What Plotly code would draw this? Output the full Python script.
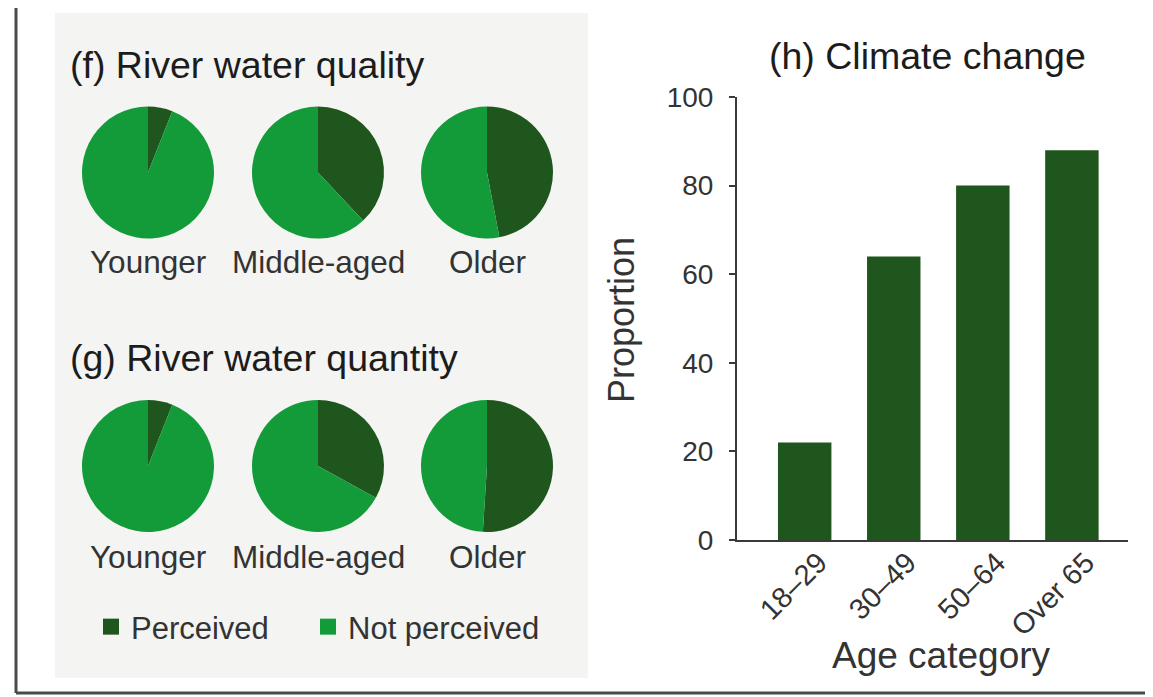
import plotly.graph_objects as go

# page has an 8px body margin, so the figure is drawn 8px smaller and all
# layout positions below are given in screenshot pixels, then shifted
OFF = 8
W, H = 1153 - OFF, 697 - OFF

# ---------------- data ----------------
groups = ["Younger", "Middle-aged", "Older"]
slice_labels = ["Perceived", "Not perceived"]
quality_perceived = [6, 38, 47]
quantity_perceived = [6, 33, 51]

age_categories = ["18–29", "30–49", "50–64", "Over 65"]
climate_values = [22, 64, 80, 88]
y_ticks = [0, 20, 40, 60, 80, 100]

DARK = "#1f561d"
LIGHT = "#139b3a"
FONT = "Liberation Sans, Arial, sans-serif"

def px(x):
    return (x - OFF) / W

def py(y):
    return 1 - (y - OFF) / H

fig = go.Figure()

# ---------------- bar chart ----------------
fig.add_trace(go.Bar(
    x=age_categories,
    y=climate_values,
    marker=dict(color=DARK, line=dict(width=0)),
    showlegend=False,
    hoverinfo="x+y",
))

# ---------------- pies ----------------
pie_cx = [148, 318, 487]
pie_r = 66
rows = [(quality_perceived, 172.5), (quantity_perceived, 466)]
for vals, cy in rows:
    for i, g in enumerate(groups):
        cx = pie_cx[i]
        fig.add_trace(go.Pie(
            labels=slice_labels,
            values=[vals[i], 100 - vals[i]],
            marker=dict(colors=[DARK, LIGHT], line=dict(width=0)),
            sort=False,
            direction="clockwise",
            rotation=0,
            textinfo="none",
            hoverinfo="label+percent",
            showlegend=False,
            domain=dict(x=[px(cx - pie_r), px(cx + pie_r)],
                        y=[py(cy + pie_r), py(cy - pie_r)]),
            name=g,
        ))

# legend entries (empty square-marker traces so the keys are larger),
# each in its own legend so they can be spaced as in the original
legend_x = [91, 308]
for k, (lab, col) in enumerate(zip(slice_labels, [DARK, LIGHT])):
    fig.add_trace(go.Scatter(
        x=[None], y=[None], mode="markers", name=lab,
        marker=dict(symbol="square", size=20, color=col),
        showlegend=True, hoverinfo="skip",
        legend="legend" if k == 0 else "legend2",
    ))

legend_common = dict(
    orientation="h", yanchor="middle", xanchor="left",
    font=dict(size=31, color="#333333", family=FONT),
    bgcolor="rgba(0,0,0,0)", itemsizing="trace",
)

fig.update_layout(
    width=W, height=H,
    margin=dict(l=0, r=0, t=0, b=0, autoexpand=False),
    paper_bgcolor="white",
    plot_bgcolor="rgba(0,0,0,0)",
    font=dict(family=FONT, color="#333333"),
    bargap=0.40,
    xaxis=dict(
        type="category",
        categoryorder="array", categoryarray=age_categories,
        domain=[px(737), px(1128)],
        range=[-0.76, 3.63],
        automargin=False,
        showline=True, linecolor="#3a3a3a", linewidth=2,
        ticks="", showgrid=False, zeroline=False,
        tickangle=-45,
        ticklabelshift=14,
        ticklabelstandoff=-8,
        tickfont=dict(size=29, color="#333333", family=FONT),
        fixedrange=True,
    ),
    yaxis=dict(
        domain=[py(540), py(97)],
        range=[0, 100],
        tickvals=y_ticks,
        automargin=False,
        showline=True, linecolor="#3a3a3a", linewidth=2,
        ticks="outside", ticklen=6, tickwidth=2, tickcolor="#3a3a3a",
        ticklabelstandoff=10,
        showgrid=False, zeroline=False,
        tickfont=dict(size=28, color="#333333", family=FONT),
        fixedrange=True,
    ),
    legend=dict(x=px(legend_x[0]), y=py(627), **legend_common),
    legend2=dict(x=px(legend_x[1]), y=py(627), **legend_common),
)

# ---------------- shapes: panel & frame ----------------
shapes = [
    dict(type="rect", xref="paper", yref="paper",
         x0=px(55), x1=px(588), y0=py(678), y1=py(13),
         fillcolor="#f4f4f2", line=dict(width=0), layer="below"),
    dict(type="line", xref="paper", yref="paper",
         x0=px(16), x1=px(16), y0=py(8), y1=py(693),
         line=dict(color="#4a4a4a", width=3)),
    dict(type="line", xref="paper", yref="paper",
         x0=px(16), x1=px(1149), y0=py(693), y1=py(693),
         line=dict(color="#4a4a4a", width=3)),
    dict(type="line", xref="paper", yref="paper",
         x0=px(1149), x1=px(1149), y0=py(8), y1=py(693),
         line=dict(color="#4a4a4a", width=3)),
]
fig.update_layout(shapes=shapes)

# ---------------- annotations ----------------
def note(text, x, y, size, color="#333333", xanchor="center", angle=0):
    return dict(text=text, x=px(x), y=py(y), xref="paper", yref="paper",
                xanchor=xanchor, yanchor="middle", showarrow=False,
                textangle=angle,
                font=dict(size=size, color=color, family=FONT))

TITLE_SIZE = 37.5
ann = [
    note("(f) River water quality", 68, 65, TITLE_SIZE, "#1c1c1c", "left"),
    note("(g) River water quantity", 68, 358, TITLE_SIZE, "#1c1c1c", "left"),
    note("(h) Climate change", 927, 56, TITLE_SIZE, "#1c1c1c"),
    note("Proportion", 621, 320, 36, angle=-90),
    note("Age category", 941, 655, 37),
]
for ly in (262, 557):
    for i, g in enumerate(groups):
        ann.append(note(g, pie_cx[i], ly, 31.5))
fig.update_layout(annotations=ann)

fig.write_html("out.html")
